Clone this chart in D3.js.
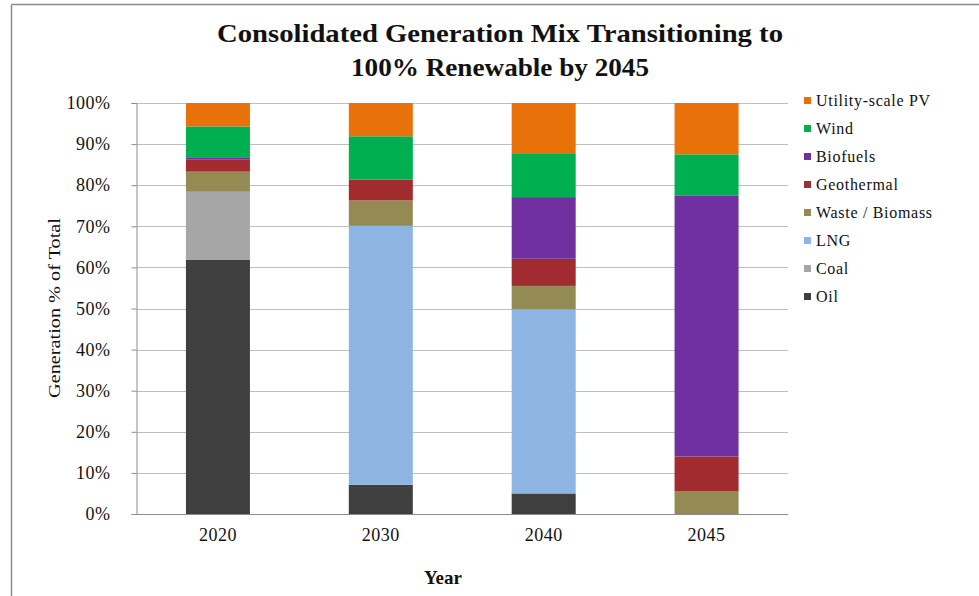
<!DOCTYPE html>
<html><head><meta charset="utf-8">
<script src="https://cdn.jsdelivr.net/npm/d3@7"></script>
<style>body{margin:0;background:#fff}</style>
</head><body>
<svg id="c" width="979" height="596"></svg>
<script>
const years = ["2020","2030","2040","2045"];
const seriesNames = ["Oil","Coal","LNG","Waste / Biomass","Geothermal","Biofuels","Wind","Utility-scale PV"];
const oil        = [61.8, 7.1, 5.0, 0];
const coal       = [16.6, 0, 0, 0];
const lng        = [0, 63.0, 44.8, 0];
const waste      = [4.9, 6.2, 5.7, 5.6];
const geothermal = [3.0, 5.1, 6.6, 8.4];
const biofuels   = [0.5, 0, 15.0, 63.4];
const wind       = [7.5, 10.5, 10.5, 10.1];
const pv         = [5.7, 8.1, 12.4, 12.5];
const yTicks = [0,10,20,30,40,50,60,70,80,90,100];
const colors = ["#3f3f3f","#a6a6a6","#8db4e2","#948a54","#a12b2e","#7030a0","#00b050","#e8710a"];

const seriesVals = [oil,coal,lng,waste,geothermal,biofuels,wind,pv];
const table = years.map((y,i)=>{const r={year:y}; seriesNames.forEach((s,k)=>r[s]=seriesVals[k][i]); return r;});
const stack = d3.stack().keys(seriesNames)(table);

const svg = d3.select("#c");
const serif = "'Liberation Serif','DejaVu Serif',serif";
// frame
svg.append("line").attr("x1",11.5).attr("x2",979).attr("y1",4.5).attr("y2",4.5).attr("stroke","#8a8a8a").attr("stroke-width",1.5);
svg.append("line").attr("x1",11.5).attr("x2",11.5).attr("y1",4.5).attr("y2",596).attr("stroke","#8a8a8a").attr("stroke-width",1.5);

const x = d3.scaleBand().domain(years).range([136.5,788]).paddingInner(0.607).paddingOuter(0.3035);
const y = d3.scaleLinear().domain([0,100]).range([514,103]);

// gridlines
svg.append("g").selectAll("line").data(yTicks.filter(t=>t>0)).join("line")
  .attr("x1",136.5).attr("x2",788).attr("y1",d=>Math.round(y(d))+0.5).attr("y2",d=>Math.round(y(d))+0.5)
  .attr("stroke","#bfbfbf").attr("stroke-width",1);

// bars
svg.append("g").selectAll("g").data(stack).join("g").attr("fill",(d,i)=>colors[i])
  .selectAll("rect").data(d=>d).join("rect")
  .attr("x",d=>x(d.data.year)).attr("width",x.bandwidth())
  .attr("y",d=>y(d[1])).attr("height",d=>Math.max(0,y(d[0])-y(d[1])));

// y axis
const ya = svg.append("g").attr("transform","translate(136.5,0)")
  .call(d3.axisLeft(y).tickValues(yTicks).tickFormat(d=>d+"%").tickSize(5).tickPadding(21));
ya.select(".domain").attr("stroke","#8c8c8c");
ya.selectAll(".tick line").attr("stroke","#8c8c8c");
ya.selectAll("text").attr("font-family",serif).attr("font-size",18).attr("letter-spacing","0.5px").attr("fill","#111");

// x axis
const xa = svg.append("g").attr("transform","translate(0,514.5)")
  .call(d3.axisBottom(x).tickSize(0).tickPadding(14));
xa.select(".domain").attr("stroke","#8c8c8c").attr("d","M136.5,0H788");
xa.selectAll("text").attr("font-family",serif).attr("font-size",18).attr("letter-spacing","0.5px").attr("fill","#111");

// titles
const title = svg.append("text").attr("text-anchor","middle").attr("font-family",serif)
  .attr("font-weight","bold").attr("font-size",26).attr("fill","#111");
title.append("tspan").attr("x",500).attr("y",42).attr("textLength",566).attr("lengthAdjust","spacingAndGlyphs").text("Consolidated Generation Mix Transitioning to");
title.append("tspan").attr("x",500).attr("y",76).attr("textLength",298).attr("lengthAdjust","spacingAndGlyphs").text("100% Renewable by 2045");

svg.append("text").attr("x",443).attr("y",584).attr("text-anchor","middle").attr("font-family",serif)
  .attr("font-weight","bold").attr("font-size",19).attr("fill","#111").text("Year");

svg.append("text").attr("transform","translate(60,308) rotate(-90)").attr("text-anchor","middle")
  .attr("font-family",serif).attr("font-size",17).attr("textLength",180).attr("lengthAdjust","spacingAndGlyphs")
  .attr("fill","#111").text("Generation % of Total");

// legend (reverse order)
const leg = svg.append("g").selectAll("g").data(seriesNames.slice().reverse()).join("g")
  .attr("transform",(d,i)=>`translate(804,${101+i*28})`);
leg.append("rect").attr("x",0).attr("y",-4).attr("width",7).attr("height",7)
  .attr("fill",d=>colors[seriesNames.indexOf(d)]);
leg.append("text").attr("x",12).attr("y",5).attr("font-family",serif).attr("font-size",16)
  .attr("letter-spacing","0.7px").attr("fill","#111").text(d=>d);
</script>
</body></html>
